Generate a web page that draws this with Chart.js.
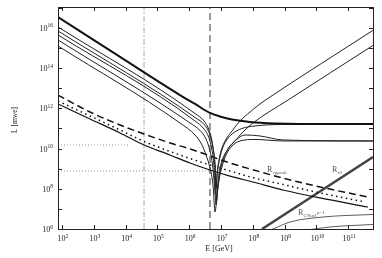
<!DOCTYPE html>
<html>
<head>
<meta charset="utf-8">
<script src="https://cdn.jsdelivr.net/npm/chart.js@4.4.0/dist/chart.umd.min.js"></script>
<style>body{margin:0;background:#fff}</style>
</head>
<body>
<canvas id="c" width="382" height="258"></canvas>
<script>
// axis ranges and tick exponents
const xRange = [75, 6e11];
const yRange = [1e6, 1.1e17];
const xTickExps = [2, 3, 4, 5, 6, 7, 8, 9, 10, 11];
const yTickExps = [6, 7, 8, 9, 10, 11, 12, 13, 14, 15, 16, 17];
const yLabelExps = [6, 8, 10, 12, 14, 16];

// curves, [E (GeV), L (mwe)]
const curveThick = [[7.5e1,3.5e16],[6.7e3,3.6e14],[5.1e5,4.6e12],[1.52e6,1.66e12],[4.5e6,5.9e11],[9.3e6,3.96e11],[2.22e7,2.8e11],[8.2e7,2.1e11],[5.0e8,1.77e11],[3.05e9,1.68e11],[6.0e11,1.68e11]];
const curveT1 = [[7.5e1,1.12e16],[1.52e6,5.57e11],[2.92e6,2.36e11],[4.2e6,8.4e10],[5.2e6,2.39e10],[6.0e6,4.8e9],[6.6e6,8.6e8],[7.0e6,1.1e8],[7.6e6,6.9e8],[8.65e6,2.7e9],[1.0e7,7.6e9],[1.34e7,2.39e10],[2.22e7,7.5e10],[3.96e7,2.36e11],[8.2e7,6.6e11],[1.68e8,1.66e12],[3.5e8,3.7e12],[6.0e11,7.6e15]];
const curveT2 = [[7.5e1,7.1e15],[1.52e6,3.52e11],[3.14e6,1.41e11],[4.5e6,4.75e10],[5.6e6,1.07e10],[6.5e6,1.53e9],[7.2e6,2.77e7],[8.05e6,2.18e8],[9.3e6,1.08e9],[1.16e7,3.4e9],[1.66e7,9.6e9],[2.75e7,2.39e10],[4.9e7,6.7e10],[1.01e8,1.88e11],[1.28e9,2.6e12],[6.0e11,1.35e15]];
const curveT3 = [[7.5e1,4.5e15],[1.52e6,2.36e11],[2.92e6,9.4e10],[4.2e6,3.4e10],[5.2e6,8.5e9],[6.0e6,1.36e9],[6.7e6,5.5e7],[7.5e6,4.3e8],[8.65e6,2.15e9],[1.07e7,8.5e9],[1.44e7,2.39e10],[2.22e7,5.3e10],[4.57e7,1.0e11],[1.17e8,1.33e11],[7.2e8,1.58e11],[6.0e11,1.68e11]];
const curveT4 = [[7.5e1,2.53e15],[1.06e6,1.88e11],[2.19e6,7.9e10],[3.37e6,3.0e10],[4.5e6,7.6e9],[5.4e6,1.53e9],[6.25e6,1.55e8],[7.0e6,1.56e7],[8.05e6,1.38e8],[9.3e6,6.9e8],[1.16e7,2.7e9],[1.66e7,9.6e9],[2.97e7,2.68e10],[5.7e7,4.75e10],[1.68e8,4.24e10],[8.9e8,2.68e10],[6.0e11,2.39e10]];
const curveT5 = [[7.5e1,1.27e15],[5.1e5,1.88e11],[1.52e6,4.75e10],[2.53e6,1.51e10],[3.37e6,4.8e9],[4.5e6,1.08e9],[5.6e6,1.55e8],[6.5e6,7.0e6],[7.5e6,4.9e7],[8.65e6,2.74e8],[1.07e7,1.22e9],[1.44e7,4.8e9],[2.22e7,1.35e10],[3.96e7,2.39e10],[1.17e8,2.84e10],[8.9e8,2.39e10],[6.0e11,2.39e10]];
const curveDashed = [[7.5e1,4.6e12],[7.6e2,6.6e11],[6.7e3,1.49e11],[3.8e4,5.3e10],[2.5e5,1.9e10],[1.06e6,9.6e9],[4.5e6,4.3e9],[1.92e7,1.92e9],[8.2e7,9.7e8],[8.9e8,3.4e8],[1.3e10,1.23e8],[4.2e11,3.9e7]];
const curveDotted = [[7.5e1,2.33e12],[7.6e2,4.19e11],[6.7e3,8.4e10],[3.8e4,2.25e10],[2.5e5,7.2e9],[1.06e6,3.2e9],[4.5e6,1.53e9],[1.92e7,7.7e8],[8.2e7,3.9e8],[8.9e8,1.64e8],[1.3e10,6.2e7],[3.4e11,2.2e7]];
const curveRange = [[7.5e1,1.66e12],[7.6e2,2.97e11],[6.7e3,6.0e10],[3.8e4,1.51e10],[2.5e5,4.8e9],[1.06e6,1.92e9],[4.5e6,8.6e8],[1.92e7,4.3e8],[1.01e8,2.18e8],[8.9e8,8.7e7],[1.3e10,3.5e7],[4.2e11,1.24e7]];
const curveTau = [[1.95e8,1e6],[6.0e11,3.8e9]];
const curveNucl1 = [[2.42e8,7.1e5],[4.3e8,1e6],[1.48e9,2.23e6],[1.61e10,3.95e6],[6.0e11,5.3e6]];
const curveNucl2 = [[3.05e9,7.9e5],[2.68e10,1.26e6],[6.0e11,1.68e6]];
const vDashDot = [[3.8e4,1e6],[3.8e4,1.1e17]];
const vDashed = [[4.5e6,1e6],[4.5e6,1.1e17]];
const hUpper = [[75,1.51e10],[1.37e4,1.51e10]];
const hLower = [[75,7.7e8],[5.0e6,7.7e8]];

// text labels: [E, L] anchor
const labelNu = [2.8e8, 6.9e8];
const labelTau = [3.1e10, 6.9e8];
const labelNucl = [2.64e9, 5.0e6];

const pts = a => a.map(([x, y]) => ({x, y}));
const serif = '"Liberation Serif", "DejaVu Serif", serif';

function line(data, color, width, dash, smooth) {
    return {
        data: pts(data),
        borderColor: color,
        borderWidth: width,
        borderDash: dash || [],
        pointRadius: 0,
        fill: false,
        showLine: true,
        cubicInterpolationMode: smooth ? 'monotone' : 'default',
        tension: 0
    };
}

function powLabel(ctx, x, y, exp, align) {
    ctx.font = '8px ' + serif;
    const wb = ctx.measureText('10').width;
    ctx.font = '5.5px ' + serif;
    const we = ctx.measureText(String(exp)).width;
    let x0 = x;
    if (align === 'right') x0 = x - wb - we;
    if (align === 'center') x0 = x - (wb + we) / 2;
    ctx.textAlign = 'left';
    ctx.font = '8px ' + serif;
    ctx.fillText('10', x0, y);
    ctx.font = '5.5px ' + serif;
    ctx.fillText(String(exp), x0 + wb, y - 3.5);
}

function subLabel(ctx, x, y, main, sub, sup) {
    ctx.textAlign = 'left';
    ctx.font = '8px ' + serif;
    ctx.fillText(main, x, y);
    const w = ctx.measureText(main).width;
    ctx.font = '5px ' + serif;
    ctx.fillText(sub, x + w, y + 2);
    if (sup) {
        const ws = ctx.measureText(sub).width;
        ctx.fillText(sup, x + w + ws + 0.5, y - 1);
    }
}

const frame = {
    id: 'frame',
    afterDraw(chart) {
        const ctx = chart.ctx;
        const {left, right, top, bottom} = chart.chartArea;
        const xs = chart.scales.x, ys = chart.scales.y;
        ctx.save();
        ctx.strokeStyle = '#222';
        ctx.lineWidth = 1;
        ctx.strokeRect(Math.round(left) + 0.5, Math.round(top) + 0.5, Math.round(right - left), Math.round(bottom - top));
        ctx.beginPath();
        xTickExps.forEach(e => {
            const px = Math.round(xs.getPixelForValue(Math.pow(10, e))) + 0.5;
            ctx.moveTo(px, bottom); ctx.lineTo(px, bottom - 4);
            ctx.moveTo(px, top); ctx.lineTo(px, top + 4);
        });
        yTickExps.forEach(e => {
            const py = Math.round(ys.getPixelForValue(Math.pow(10, e))) + 0.5;
            ctx.moveTo(left, py); ctx.lineTo(left + 4, py);
            ctx.moveTo(right, py); ctx.lineTo(right - 4, py);
        });
        ctx.stroke();

        ctx.fillStyle = '#222';
        ctx.textBaseline = 'alphabetic';
        xTickExps.forEach(e => {
            powLabel(ctx, xs.getPixelForValue(Math.pow(10, e)) + 1, bottom + 12, e, 'center');
        });
        yLabelExps.forEach(e => {
            powLabel(ctx, left - 5, ys.getPixelForValue(Math.pow(10, e)) + 3, e, 'right');
        });

        ctx.font = '8px ' + serif;
        ctx.textAlign = 'center';
        ctx.fillText('E [GeV]', 219, 251);
        ctx.save();
        ctx.translate(17, 120);
        ctx.rotate(-Math.PI / 2);
        ctx.font = '7.5px ' + serif;
        ctx.fillText('L [mwe]', 0, 0);
        ctx.restore();

        ctx.fillStyle = '#555';
        subLabel(ctx, xs.getPixelForValue(labelNu[0]), ys.getPixelForValue(labelNu[1]), 'R', 'νμpeak');
        subLabel(ctx, xs.getPixelForValue(labelTau[0]), ys.getPixelForValue(labelTau[1]), 'R', 'τ0');
        subLabel(ctx, xs.getPixelForValue(labelNucl[0]), ys.getPixelForValue(labelNucl[1]), 'R', 'CNucl', 'ρ=1');
        ctx.restore();
    }
};

new Chart(document.getElementById('c'), {
    type: 'scatter',
    data: {
        datasets: [
            line(curveThick, '#111', 2, null, true),
            line(curveT1, '#222', 1, null, true),
            line(curveT2, '#222', 1, null, true),
            line(curveT3, '#222', 1, null, true),
            line(curveT4, '#222', 1, null, true),
            line(curveT5, '#222', 1, null, true),
            line(curveDashed, '#111', 1.5, [7, 4], true),
            line(curveDotted, '#111', 1.5, [1.5, 3.5], true),
            line(curveRange, '#111', 1.2, null, true),
            line(curveTau, '#444', 2.5),
            line(curveNucl1, '#333', 0.8, null, true),
            line(curveNucl2, '#333', 0.8, null, true),
            line(hUpper, '#999', 1, [1, 2]),
            line(hLower, '#999', 1, [1, 2]),
            line(vDashDot, '#aaa', 1, [6, 2, 1.5, 2]),
            line(vDashed, '#999', 2, [7, 4])
        ]
    },
    options: {
        responsive: false,
        animation: false,
        devicePixelRatio: 1,
        layout: {padding: {top: 7, right: 9, left: 0, bottom: 0}},
        plugins: {legend: {display: false}, tooltip: {enabled: false}},
        scales: {
            x: {
                type: 'logarithmic', min: xRange[0], max: xRange[1],
                ticks: {display: false}, grid: {display: false}, border: {display: false},
                afterFit: s => { s.height = 29; }
            },
            y: {
                type: 'logarithmic', min: yRange[0], max: yRange[1],
                ticks: {display: false}, grid: {display: false}, border: {display: false},
                afterFit: s => { s.width = 58; }
            }
        }
    },
    plugins: [frame]
});
</script>
</body>
</html>
